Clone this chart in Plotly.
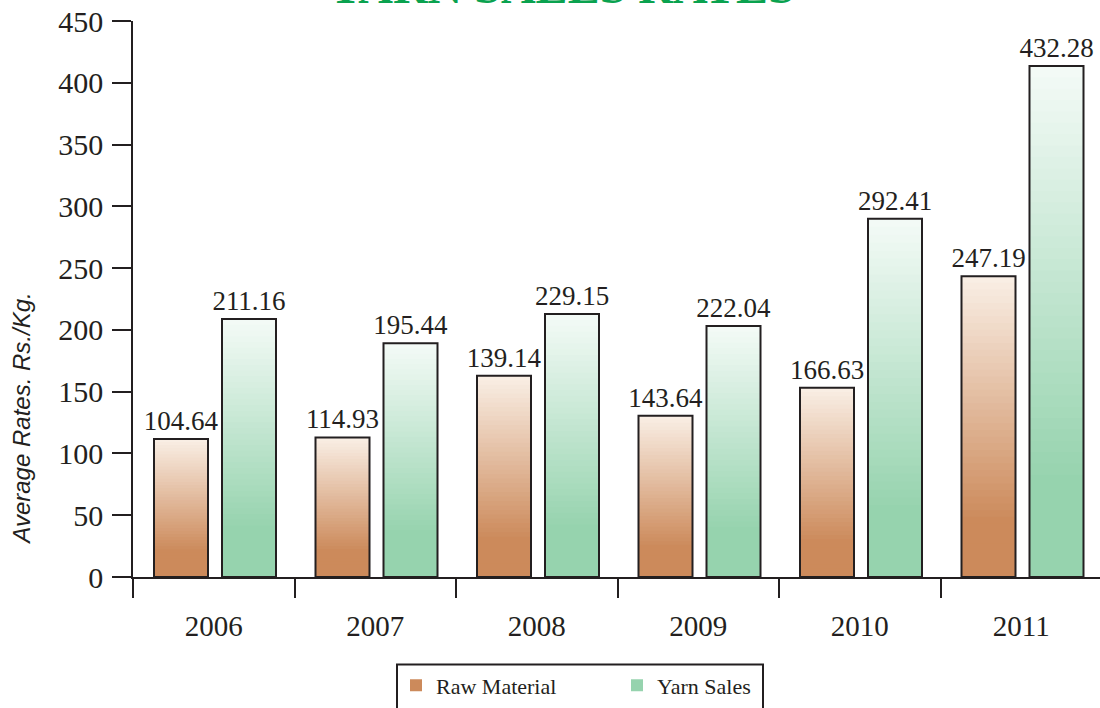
import plotly.graph_objects as go

# ---- data ----
years = ["2006", "2007", "2008", "2009", "2010", "2011"]
raw_heights = [111.7, 113.0, 162.9, 130.6, 153.2, 243.5]      # drawn bar heights
yarn_heights = [208.8, 189.1, 212.8, 203.1, 289.9, 413.6]     # drawn bar heights
raw_labels = ["104.64", "114.93", "139.14", "143.64", "166.63", "247.19"]
yarn_labels = ["211.16", "195.44", "229.15", "222.04", "292.41", "432.28"]
y_ticks = [0, 50, 100, 150, 200, 250, 300, 350, 400, 450]

# ---- layout (page pixels; page body margin removed after plotting) ----
W, H = 1100, 708
PLOT_L, PLOT_R, PLOT_T, PLOT_B = 133, 1100, 21, 577.5
ML, MR, MT, MB = PLOT_L, W - PLOT_R, PLOT_T, H - PLOT_B
plot_w = W - ML - MR
plot_h = H - MT - MB
cat_px = 161.5
x_end = -0.5 + plot_w / cat_px

bar_w = 54 / cat_px
raw_off = (154 - 213.75) / cat_px
yarn_off = (222 - 213.75) / cat_px

RAW_LIGHT, RAW_DARK = (249, 238, 228), (204, 138, 91)
YARN_LIGHT, YARN_DARK = (243, 250, 246), (150, 211, 174)
INK = "#231f20"
SERIF = "Liberation Serif"
N = 45


def lerp(c1, c2, t):
    return "rgb(%d,%d,%d)" % tuple(round(a + (b - a) * t) for a, b in zip(c1, c2))


fig = go.Figure()


def add_series(name, heights, labels, offset, light, dark):
    for k in range(N):
        frac = 1 - k / N
        t = min(1.0, (k / N) / 0.8)
        last = k == N - 1
        fig.add_trace(go.Bar(
            x=years, y=[h * frac for h in heights],
            offset=offset, width=bar_w,
            marker=dict(color=lerp(light, dark, t), line=dict(width=0)),
            name=name, showlegend=last, legendgroup=name,
            hoverinfo="skip",
        ))
    fig.add_trace(go.Bar(
        x=years, y=heights, offset=offset, width=bar_w,
        marker=dict(color="rgba(0,0,0,0)", line=dict(color=INK, width=2)),
        text=labels, textposition="outside", constraintext="none",
        textfont=dict(family=SERIF, size=27, color=INK),
        cliponaxis=False, showlegend=False, legendgroup=name, name=name,
    ))


add_series("Raw Material", raw_heights, raw_labels, raw_off, RAW_LIGHT, RAW_DARK)
add_series("Yarn Sales", yarn_heights, yarn_labels, yarn_off, YARN_LIGHT, YARN_DARK)


def px_x(px):  # page x -> paper fraction
    return (px - PLOT_L) / plot_w


def px_y(py):  # page y -> paper fraction
    return (PLOT_B - py) / plot_h


fig.update_layout(
    width=W, height=H,
    margin=dict(l=ML, r=MR, t=MT, b=MB, pad=0),
    paper_bgcolor="white", plot_bgcolor="white",
    barmode="overlay",
    font=dict(family=SERIF, color=INK),
    showlegend=True,
    legend=dict(
        orientation="h", x=px_x(396), xanchor="left", y=px_y(665), yanchor="top",
        font=dict(family=SERIF, size=22, color=INK),
        bgcolor="rgba(0,0,0,0)", borderwidth=0,
        entrywidth=176, entrywidthmode="pixels", traceorder="normal",
    ),
    xaxis=dict(
        range=[-0.5, x_end], showline=True, linecolor=INK, linewidth=1.5,
        ticks="outside", tickson="boundaries", ticklen=19, tickwidth=1.5, tickcolor=INK,
        tickfont=dict(family=SERIF, size=29, color=INK), ticklabelstandoff=22,
        showgrid=False, zeroline=False, fixedrange=True,
    ),
    yaxis=dict(
        range=[0, 450], tickvals=y_ticks, showline=True, linecolor=INK, linewidth=1.5,
        ticks="outside", ticklen=19, tickwidth=1.5, tickcolor=INK,
        tickfont=dict(family=SERIF, size=30, color=INK), ticklabelstandoff=3,
        ticklabeloverflow="allow",
        showgrid=False, zeroline=False, fixedrange=True,
    ),
    shapes=[dict(
        type="rect", xref="paper", yref="paper",
        x0=px_x(397), x1=px_x(763), y0=px_y(730), y1=px_y(665),
        line=dict(color=INK, width=2), fillcolor="rgba(0,0,0,0)", layer="above",
    )],
    annotations=[
        dict(text="YARN SALES RATES", xref="paper", yref="paper",
             x=px_x(561.5), y=px_y(-13.5), xanchor="center", yanchor="middle",
             showarrow=False,
             font=dict(family=SERIF, size=48, color="#0aa24f", weight="bold")),
        dict(text="Average Rates. Rs./Kg.", xref="paper", yref="paper",
             x=px_x(22), y=px_y(419), xanchor="center", yanchor="middle",
             textangle=-90, showarrow=False,
             font=dict(family="Liberation Sans", size=24, color=INK, style="italic")),
    ],
)

fig.write_html(
    "out.html",
    config={"displayModeBar": False},
    post_script="document.body.style.margin='0';document.body.style.overflow='hidden';",
)
